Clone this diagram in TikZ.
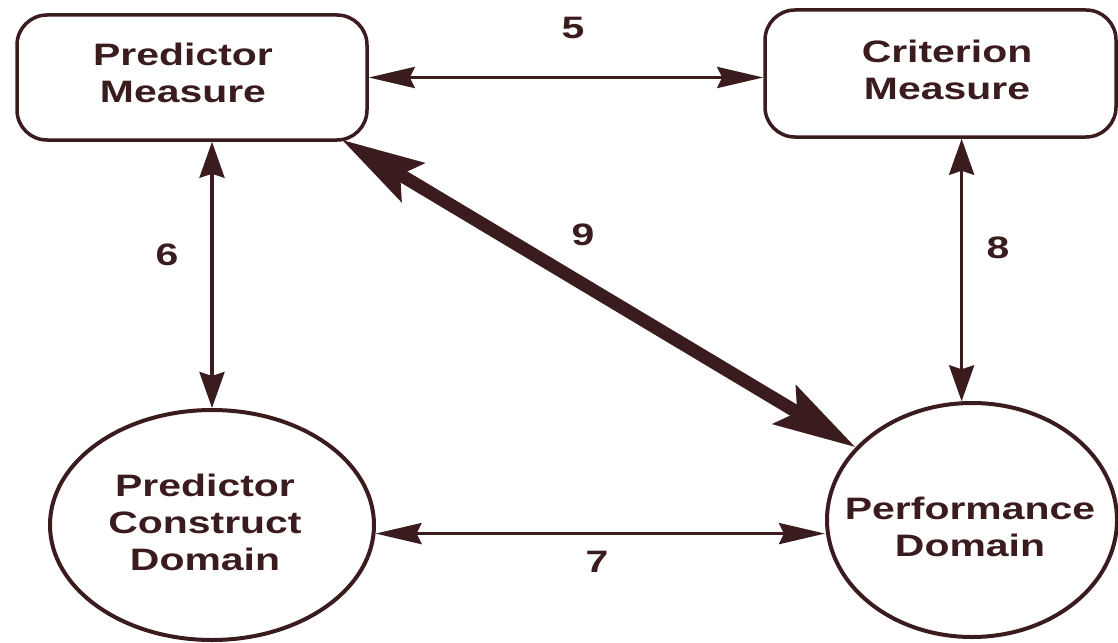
\documentclass[tikz,border=0pt]{standalone}
\usepackage{fontspec}
\usetikzlibrary{shapes.geometric,arrows.meta,calc}
\newfontfamily\diagfont[FakeStretch=1.32]{Liberation Sans}
\newcommand{\lblfont}{\diagfont\bfseries\fontsize{31}{37}\selectfont}
\definecolor{inkc}{HTML}{3A1C1F}
\begin{document}
\begin{tikzpicture}[x=1pt,y=-1pt,
  ink/.style={draw=inkc, line width=3.5pt},
  boxnode/.style={ink, rounded corners=30pt, minimum width=350pt, minimum height=125pt, inner sep=0pt},
  ellnode/.style={ellipse, draw=inkc, line width=4pt, inner sep=0pt},
  lbl/.style={align=center, font=\lblfont, text=inkc, inner sep=0pt},
  hthin/.style={draw=inkc, line width=3.5pt, >={Stealth[length=46pt,width=21pt,inset=5pt]}, <->},
  vthin/.style={draw=inkc, line width=3.5pt, >={Stealth[length=36pt,width=25pt,inset=4pt]}, <->},
  thick/.style={draw=inkc, line width=13pt, >={Stealth[length=82pt,width=44pt,inset=14pt]}, <->}]
\useasboundingbox (0,0) rectangle (1118,642);
\fill[white] (0,0) rectangle (1118,642);

\node[boxnode] (PM) at (192,77.5) {};
\node[lbl] (PMt) at (183,73) {Predictor\\Measure};
\node[boxnode, minimum width=351pt, minimum height=127pt] (CM) at (940.5,73.5) {};
\node[lbl] (CMt) at (947,70) {Criterion\\Measure};
\node[ellnode, minimum width=324pt, minimum height=230pt] (PCD) at (212,525) {};
\node[lbl] (PCDt) at (205,522) {Predictor\\Construct\\Domain};
\node[ellnode, minimum width=290pt, minimum height=234pt] (PD) at (972,520) {};
\node[lbl] (PDt) at (970,527) {Performance\\Domain};

\draw[hthin] (PM.east) -- (PM.east -| CM.west);
\draw[vthin] (PM.south -| PCD.north) -- (PCD.north);
\draw[vthin] (CM.south -| PD.95) -- (PD.95);
\draw[hthin] (PCD.-3) -- (PCD.-3 -| PD.west);
\draw[thick] ($(PM.south east)+(-27,-2)$) -- (PD.148);

\node[lbl] (n5) at (573,28) {5};
\node[lbl] (n6) at (167,255) {6};
\node[lbl] (n7) at (597,562) {7};
\node[lbl] (n8) at (998,248) {8};
\node[lbl] (n9) at (583,235) {9};
\end{tikzpicture}
\end{document}
